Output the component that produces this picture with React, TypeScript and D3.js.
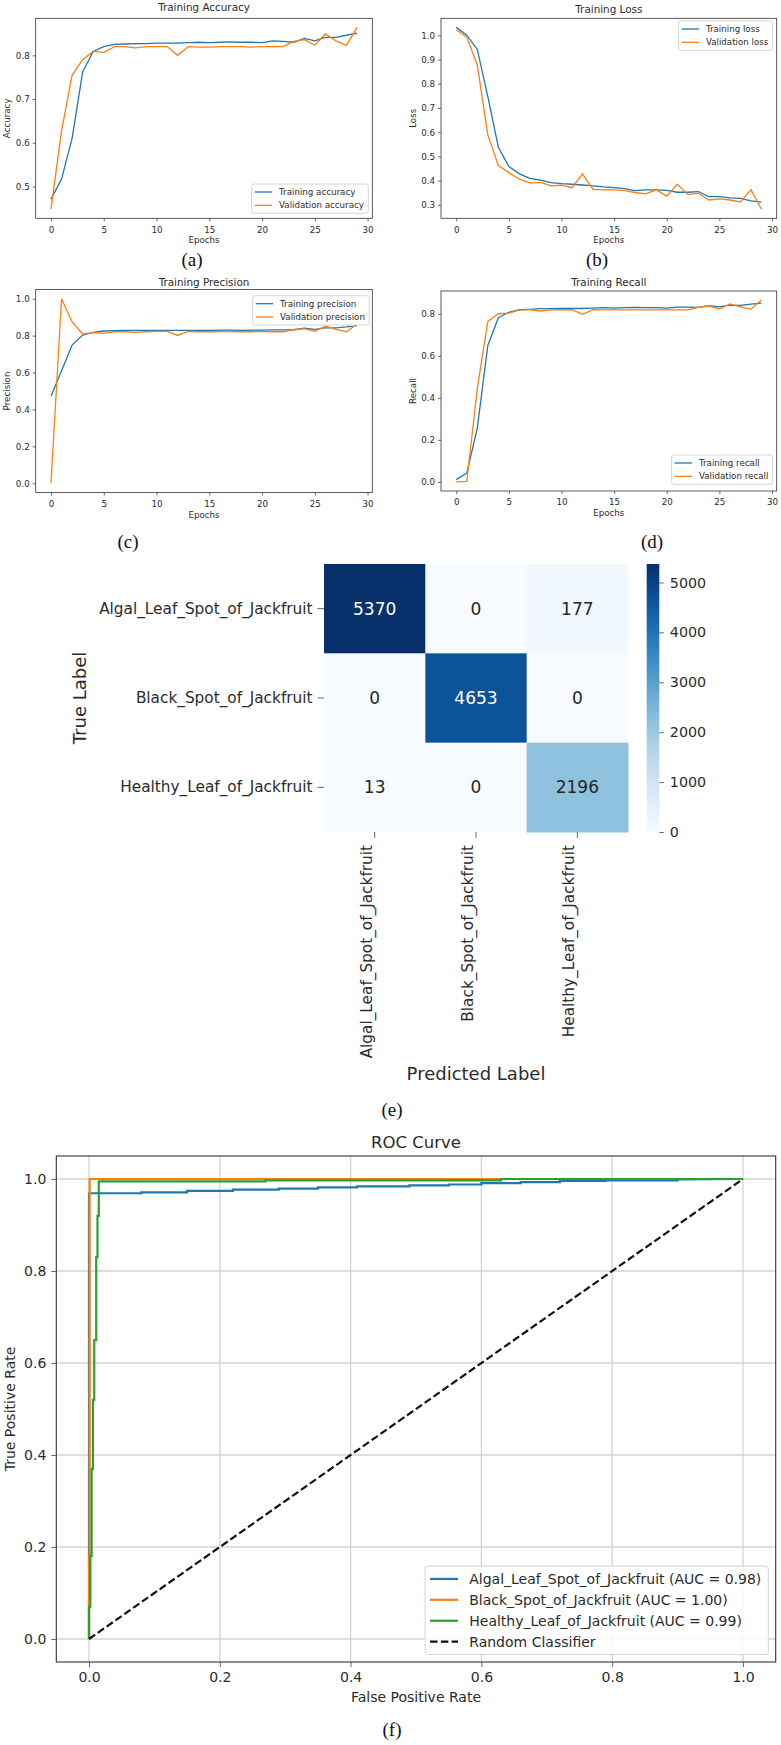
import React, { useEffect, useRef } from 'react';
import * as d3 from 'd3';

// Training history (30 epochs)
const epochs = d3.range(0, 30);

const trainAccuracy = [0.471, 0.517, 0.61, 0.762, 0.809, 0.82, 0.825, 0.826, 0.827, 0.827, 0.828, 0.828, 0.828, 0.829, 0.83, 0.829, 0.83, 0.831, 0.83, 0.83, 0.829, 0.833, 0.832, 0.83, 0.839, 0.833, 0.841, 0.841, 0.846, 0.851];
const valAccuracy = [0.448, 0.627, 0.755, 0.79, 0.809, 0.807, 0.82, 0.82, 0.817, 0.82, 0.82, 0.82, 0.8, 0.82, 0.819, 0.819, 0.82, 0.82, 0.82, 0.819, 0.82, 0.82, 0.82, 0.832, 0.836, 0.823, 0.849, 0.833, 0.823, 0.864];

const trainLoss = [1.033, 1.001, 0.942, 0.747, 0.538, 0.458, 0.428, 0.409, 0.402, 0.392, 0.388, 0.385, 0.382, 0.378, 0.374, 0.371, 0.367, 0.359, 0.362, 0.362, 0.36, 0.352, 0.352, 0.355, 0.334, 0.334, 0.329, 0.327, 0.316, 0.311];
const valLoss = [1.023, 0.992, 0.878, 0.589, 0.462, 0.433, 0.406, 0.391, 0.393, 0.378, 0.381, 0.371, 0.428, 0.364, 0.362, 0.362, 0.359, 0.351, 0.345, 0.362, 0.336, 0.385, 0.342, 0.348, 0.32, 0.325, 0.32, 0.312, 0.363, 0.282];

const trainPrecision = [0.472, 0.61, 0.749, 0.803, 0.818, 0.825, 0.827, 0.828, 0.829, 0.829, 0.829, 0.829, 0.829, 0.829, 0.829, 0.829, 0.83, 0.83, 0.829, 0.83, 0.83, 0.831, 0.831, 0.832, 0.84, 0.834, 0.842, 0.842, 0.847, 0.854];
const valPrecision = [0.0, 1.0, 0.874, 0.809, 0.816, 0.812, 0.821, 0.821, 0.818, 0.821, 0.823, 0.823, 0.801, 0.823, 0.821, 0.821, 0.822, 0.822, 0.821, 0.821, 0.822, 0.821, 0.821, 0.832, 0.838, 0.823, 0.851, 0.834, 0.821, 0.863];

const trainRecall = [0.011, 0.042, 0.256, 0.649, 0.781, 0.807, 0.819, 0.821, 0.824, 0.824, 0.825, 0.825, 0.825, 0.827, 0.829, 0.827, 0.829, 0.83, 0.829, 0.829, 0.827, 0.832, 0.832, 0.83, 0.838, 0.833, 0.841, 0.84, 0.846, 0.851];
const valRecall = [0.0, 0.002, 0.445, 0.764, 0.8, 0.803, 0.818, 0.818, 0.813, 0.818, 0.819, 0.819, 0.797, 0.819, 0.818, 0.818, 0.818, 0.818, 0.818, 0.818, 0.818, 0.818, 0.818, 0.83, 0.838, 0.822, 0.847, 0.833, 0.822, 0.865];

const epochTicks = [0, 5, 10, 15, 20, 25, 30];

// Confusion matrix
const classNames = ['Algal_Leaf_Spot_of_Jackfruit', 'Black_Spot_of_Jackfruit', 'Healthy_Leaf_of_Jackfruit'];
const confusion = [
  [5370, 0, 177],
  [0, 4653, 0],
  [13, 0, 2196],
];
const colorbarTicks = [0, 1000, 2000, 3000, 4000, 5000];

// ROC curves (staircase points)
const rocAlgalFpr = [0, 0, 0.08, 0.08, 0.15, 0.15, 0.22, 0.22, 0.29, 0.29, 0.35, 0.35, 0.41, 0.41, 0.49, 0.49, 0.55, 0.55, 0.6, 0.6, 0.66, 0.66, 0.72, 0.72, 0.79, 0.79, 0.9, 0.9, 1.0];
const rocAlgalTpr = [0, 0.969, 0.969, 0.971, 0.971, 0.974, 0.974, 0.977, 0.977, 0.979, 0.979, 0.982, 0.982, 0.984, 0.984, 0.986, 0.986, 0.988, 0.988, 0.991, 0.991, 0.993, 0.993, 0.996, 0.996, 0.997, 0.997, 0.999, 1.0];
const rocBlackFpr = [0, 0, 0.001, 0.001, 1.0];
const rocBlackTpr = [0, 0.18, 0.18, 1.0, 1.0];
const rocHealthyFpr = [0, 0, 0.002, 0.002, 0.004, 0.004, 0.006, 0.006, 0.008, 0.008, 0.011, 0.011, 0.013, 0.013, 0.015, 0.015, 0.27, 0.27, 0.63, 0.63, 1.0];
const rocHealthyTpr = [0, 0.07, 0.07, 0.18, 0.18, 0.37, 0.37, 0.52, 0.52, 0.65, 0.65, 0.83, 0.83, 0.92, 0.92, 0.995, 0.995, 0.997, 0.997, 1.0, 1.0];
const rocAuc = [0.98, 1.0, 0.99];
const rocTicks = [0, 0.2, 0.4, 0.6, 0.8, 1.0];

const BLUE = '#1f77b4';
const ORANGE = '#ff7f0e';
const GREEN = '#2ca02c';
const FONT = "'DejaVu Sans', sans-serif";
const SERIF = "'Liberation Serif', 'Times New Roman', serif";
const INK = '#2b2b2b';

type Sel = d3.Selection<SVGGElement, unknown, null, undefined>;
type LegendEntry = { label: string; color: string; dash?: string };
type Frame = { left: number; top: number; right: number; bottom: number };

function drawLegend(
  root: Sel,
  entries: LegendEntry[],
  fs: number,
  rowGap: number,
  lineWidth: number,
  anchor: { right: number; top?: number; bottom?: number }
) {
  const g = root.append('g');
  const pad = 0.35 * fs;
  const handleLen = 2 * fs;
  const textX = pad + handleLen + 0.8 * fs;
  const first = 0.92 * fs;
  const h = (entries.length - 1) * rowGap + 2 * first;

  const box = g.append('rect')
    .attr('rx', 2.5)
    .attr('fill', 'white')
    .attr('fill-opacity', 0.85)
    .attr('stroke', '#d4d4d4')
    .attr('stroke-width', 1);

  let maxLen = 0;
  entries.forEach((e, i) => {
    const cy = first + i * rowGap;
    g.append('line')
      .attr('x1', pad).attr('x2', pad + handleLen)
      .attr('y1', cy).attr('y2', cy)
      .attr('stroke', e.color)
      .attr('stroke-width', lineWidth)
      .attr('stroke-dasharray', e.dash ?? null);
    const t = g.append('text')
      .attr('x', textX).attr('y', cy).attr('dy', '0.35em')
      .attr('font-family', FONT).attr('font-size', fs)
      .attr('fill', INK)
      .text(e.label);
    maxLen = Math.max(maxLen, (t.node() as SVGTextElement).getComputedTextLength());
  });

  const w = textX + maxLen + 0.5 * fs;
  box.attr('width', w).attr('height', h);
  const top = anchor.top ?? (anchor.bottom as number) - h;
  g.attr('transform', `translate(${anchor.right - w},${top})`);
}

function styleAxis(axisG: Sel, fs: number) {
  axisG.select('.domain').remove();
  axisG.selectAll('line').attr('stroke', '#444').attr('stroke-width', 0.8);
  axisG.selectAll('text').attr('font-family', FONT).attr('font-size', fs).attr('fill', INK);
}

interface HistorySpec {
  title: string;
  ylabel: string;
  train: number[];
  val: number[];
  trainLabel: string;
  valLabel: string;
  yTicks: number[];
  frame: Frame;
  titleBaseline: number;
  legend: { right: number; top?: number; bottom?: number };
}

function drawHistory(root: Sel, s: HistorySpec) {
  const { left, top, right, bottom } = s.frame;
  const fs = 8.7;
  const g = root.append('g');

  const xMax = d3.max(epochs) as number;
  const x = d3.scaleLinear().domain([-0.05 * xMax, xMax * 1.05]).range([left, right]);
  const [lo, hi] = d3.extent([...s.train, ...s.val]) as [number, number];
  const m = (hi - lo) * 0.05;
  const y = d3.scaleLinear().domain([lo - m, hi + m]).range([bottom, top]);

  const line = d3.line<number>().x((_, i) => x(epochs[i])).y(d => y(d));

  g.append('path').datum(s.train)
    .attr('d', line).attr('fill', 'none')
    .attr('stroke', BLUE).attr('stroke-width', 1.3);
  g.append('path').datum(s.val)
    .attr('d', line).attr('fill', 'none')
    .attr('stroke', ORANGE).attr('stroke-width', 1.3);

  g.append('rect')
    .attr('x', left).attr('y', top)
    .attr('width', right - left).attr('height', bottom - top)
    .attr('fill', 'none').attr('stroke', '#333').attr('stroke-width', 0.8);

  const xa = g.append('g').attr('transform', `translate(0,${bottom})`)
    .call(d3.axisBottom(x).tickValues(epochTicks).tickFormat(d3.format('d')).tickSize(3).tickPadding(5.3));
  styleAxis(xa, fs);
  const ya = g.append('g').attr('transform', `translate(${left},0)`)
    .call(d3.axisLeft(y).tickValues(s.yTicks).tickFormat(d3.format('.1f')).tickSize(3).tickPadding(3));
  styleAxis(ya, fs);

  g.append('text')
    .attr('x', (left + right) / 2).attr('y', s.titleBaseline)
    .attr('text-anchor', 'middle')
    .attr('font-family', FONT).attr('font-size', 10.4).attr('fill', INK)
    .text(s.title);

  g.append('text')
    .attr('x', (left + right) / 2).attr('y', bottom + 22).attr('dy', '0.35em')
    .attr('text-anchor', 'middle')
    .attr('font-family', FONT).attr('font-size', fs).attr('fill', INK)
    .text('Epochs');

  g.append('text')
    .attr('transform', `translate(${left - 28.5},${(top + bottom) / 2}) rotate(-90)`)
    .attr('dy', '0.35em')
    .attr('text-anchor', 'middle')
    .attr('font-family', FONT).attr('font-size', fs).attr('fill', INK)
    .text(s.ylabel);

  drawLegend(g, [
    { label: s.trainLabel, color: BLUE },
    { label: s.valLabel, color: ORANGE },
  ], fs, 13.3, 1.3, s.legend);
}

function drawCaption(root: Sel, label: string, cx: number, baseline: number) {
  root.append('text')
    .attr('x', cx).attr('y', baseline)
    .attr('text-anchor', 'middle')
    .attr('font-family', SERIF).attr('font-size', 19).attr('fill', '#111')
    .text(label);
}

function drawConfusion(root: Sel) {
  const g = root.append('g');
  const left = 324, right = 628, top = 564, bottom = 832;
  const x = d3.scaleBand<string>().domain(classNames).range([left, right]);
  const y = d3.scaleBand<string>().domain(classNames).range([top, bottom]);
  const vmax = d3.max(confusion.flat()) as number;
  const color = d3.scaleSequential(d3.interpolateBlues).domain([0, vmax]);

  confusion.forEach((row, r) => {
    row.forEach((v, c) => {
      const fill = color(v);
      g.append('rect')
        .attr('x', x(classNames[c]) as number)
        .attr('y', y(classNames[r]) as number)
        .attr('width', x.bandwidth() + 0.5)
        .attr('height', y.bandwidth() + 0.5)
        .attr('fill', fill);
      const light = d3.hsl(fill).l < 0.5;
      g.append('text')
        .attr('x', (x(classNames[c]) as number) + x.bandwidth() / 2)
        .attr('y', (y(classNames[r]) as number) + y.bandwidth() / 2)
        .attr('dy', '0.36em')
        .attr('text-anchor', 'middle')
        .attr('font-family', FONT).attr('font-size', 17)
        .attr('fill', light ? '#ffffff' : '#262626')
        .text(String(v));
    });
  });

  const ya = g.append('g').attr('transform', `translate(${left},0)`)
    .call(d3.axisLeft(y).tickSize(6.5).tickPadding(5));
  styleAxis(ya, 15.3);

  const xa = g.append('g').attr('transform', `translate(0,${bottom})`)
    .call(d3.axisBottom(x).tickSize(6).tickPadding(0));
  styleAxis(xa, 15.3);
  xa.selectAll('text')
    .attr('transform', 'rotate(-90)')
    .attr('x', -13).attr('y', -3).attr('dy', null)
    .attr('text-anchor', 'end');

  g.append('text')
    .attr('transform', `translate(86,${(top + bottom) / 2}) rotate(-90)`)
    .attr('text-anchor', 'middle')
    .attr('font-family', FONT).attr('font-size', 18).attr('fill', INK)
    .text('True Label');

  g.append('text')
    .attr('x', (left + right) / 2).attr('y', 1080)
    .attr('text-anchor', 'middle')
    .attr('font-family', FONT).attr('font-size', 18).attr('fill', INK)
    .text('Predicted Label');

  // colour bar
  const cbLeft = 646.7, cbWidth = 12.6;
  const cb = d3.scaleLinear().domain([0, vmax]).range([bottom, top]);
  const defs = root.append('defs');
  const grad = defs.append('linearGradient')
    .attr('id', 'blues-bar')
    .attr('x1', 0).attr('y1', 1).attr('x2', 0).attr('y2', 0);
  d3.range(0, 1.0001, 0.05).forEach(t => {
    grad.append('stop').attr('offset', t).attr('stop-color', color(t * vmax));
  });
  g.append('rect')
    .attr('x', cbLeft).attr('y', top)
    .attr('width', cbWidth).attr('height', bottom - top)
    .attr('fill', 'url(#blues-bar)');
  const ca = g.append('g').attr('transform', `translate(${cbLeft + cbWidth},0)`)
    .call(d3.axisRight(cb).tickValues(colorbarTicks).tickFormat(d3.format('d')).tickSize(4.5).tickPadding(6));
  styleAxis(ca, 14.3);
}

function drawRoc(root: Sel) {
  const g = root.append('g');
  const left = 56.3, right = 775.7, top = 1156, bottom = 1662;
  const x = d3.scaleLinear().domain([-0.05, 1.05]).range([left, right]);
  const y = d3.scaleLinear().domain([-0.05, 1.05]).range([bottom, top]);

  rocTicks.forEach(t => {
    g.append('line')
      .attr('x1', x(t)).attr('x2', x(t)).attr('y1', top).attr('y2', bottom)
      .attr('stroke', '#d3d3d3').attr('stroke-width', 1.3);
    g.append('line')
      .attr('x1', left).attr('x2', right).attr('y1', y(t)).attr('y2', y(t))
      .attr('stroke', '#d3d3d3').attr('stroke-width', 1.3);
  });

  const line = d3.line<[number, number]>().x(d => x(d[0])).y(d => y(d[1]));
  const curves: { fpr: number[]; tpr: number[]; color: string }[] = [
    { fpr: rocAlgalFpr, tpr: rocAlgalTpr, color: BLUE },
    { fpr: rocBlackFpr, tpr: rocBlackTpr, color: ORANGE },
    { fpr: rocHealthyFpr, tpr: rocHealthyTpr, color: GREEN },
  ];
  curves.forEach(c => {
    g.append('path')
      .datum(c.fpr.map((f, i) => [f, c.tpr[i]] as [number, number]))
      .attr('d', line).attr('fill', 'none')
      .attr('stroke', c.color).attr('stroke-width', 2.2)
      .attr('stroke-linejoin', 'miter');
  });
  g.append('path')
    .datum([[0, 0], [1, 1]] as [number, number][])
    .attr('d', line).attr('fill', 'none')
    .attr('stroke', '#111').attr('stroke-width', 2.2)
    .attr('stroke-dasharray', '7.5,3.3');

  g.append('rect')
    .attr('x', left).attr('y', top)
    .attr('width', right - left).attr('height', bottom - top)
    .attr('fill', 'none').attr('stroke', '#333').attr('stroke-width', 1.1);

  const xa = g.append('g').attr('transform', `translate(0,${bottom})`)
    .call(d3.axisBottom(x).tickValues(rocTicks).tickFormat(d3.format('.1f')).tickSize(5).tickPadding(5.4));
  styleAxis(xa, 14);
  const ya = g.append('g').attr('transform', `translate(${left},0)`)
    .call(d3.axisLeft(y).tickValues(rocTicks).tickFormat(d3.format('.1f')).tickSize(5).tickPadding(5));
  styleAxis(ya, 14);

  g.append('text')
    .attr('x', (left + right) / 2).attr('y', 1148)
    .attr('text-anchor', 'middle')
    .attr('font-family', FONT).attr('font-size', 16.5).attr('fill', INK)
    .text('ROC Curve');
  g.append('text')
    .attr('x', (left + right) / 2).attr('y', 1697).attr('dy', '0.35em')
    .attr('text-anchor', 'middle')
    .attr('font-family', FONT).attr('font-size', 14).attr('fill', INK)
    .text('False Positive Rate');
  g.append('text')
    .attr('transform', `translate(15,${(top + bottom) / 2}) rotate(-90)`)
    .attr('text-anchor', 'middle')
    .attr('font-family', FONT).attr('font-size', 14).attr('fill', INK)
    .text('True Positive Rate');

  drawLegend(g, [
    ...classNames.map((n, i) => ({
      label: `${n} (AUC = ${rocAuc[i].toFixed(2)})`,
      color: [BLUE, ORANGE, GREEN][i],
    })),
    { label: 'Random Classifier', color: '#111', dash: '7.5,3.3' },
  ], 14, 20.9, 2.2, { right: 768.3, bottom: 1654.5 });
}

export default function App() {
  const svgRef = useRef<SVGSVGElement>(null);

  useEffect(() => {
    if (!svgRef.current) return;
    const svg = d3.select(svgRef.current);
    svg.selectAll('*').remove();
    const root = svg.append('g') as unknown as Sel;

    drawHistory(root, {
      title: 'Training Accuracy', ylabel: 'Accuracy',
      train: trainAccuracy, val: valAccuracy,
      trainLabel: 'Training accuracy', valLabel: 'Validation accuracy',
      yTicks: [0.5, 0.6, 0.7, 0.8],
      frame: { left: 35.7, top: 18.3, right: 372.3, bottom: 218.3 },
      titleBaseline: 11,
      legend: { right: 368.3, bottom: 213.3 },
    });
    drawHistory(root, {
      title: 'Training Loss', ylabel: 'Loss',
      train: trainLoss, val: valLoss,
      trainLabel: 'Training loss', valLabel: 'Validation loss',
      yTicks: [0.3, 0.4, 0.5, 0.6, 0.7, 0.8, 0.9, 1.0],
      frame: { left: 441, top: 18.3, right: 776.7, bottom: 218.3 },
      titleBaseline: 12.5,
      legend: { right: 772.7, top: 21 },
    });
    drawHistory(root, {
      title: 'Training Precision', ylabel: 'Precision',
      train: trainPrecision, val: valPrecision,
      trainLabel: 'Training precision', valLabel: 'Validation precision',
      yTicks: [0, 0.2, 0.4, 0.6, 0.8, 1.0],
      frame: { left: 35.7, top: 289.5, right: 372.3, bottom: 492.5 },
      titleBaseline: 285.5,
      legend: { right: 369.3, top: 295.7 },
    });
    drawHistory(root, {
      title: 'Training Recall', ylabel: 'Recall',
      train: trainRecall, val: valRecall,
      trainLabel: 'Training recall', valLabel: 'Validation recall',
      yTicks: [0, 0.2, 0.4, 0.6, 0.8],
      frame: { left: 441, top: 291, right: 776.7, bottom: 491 },
      titleBaseline: 285.5,
      legend: { right: 772.7, bottom: 484.3 },
    });

    drawCaption(root, '(a)', 192, 266);
    drawCaption(root, '(b)', 597, 266);
    drawCaption(root, '(c)', 128, 548);
    drawCaption(root, '(d)', 652, 548);

    drawConfusion(root);
    drawCaption(root, '(e)', 392, 1116);

    drawRoc(root);
    drawCaption(root, '(f)', 392, 1736);
  }, []);

  return (
    <svg
      ref={svgRef}
      width={781}
      height={1745}
      style={{ position: 'absolute', left: 0, top: 0, display: 'block', background: 'white' }}
    />
  );
}
